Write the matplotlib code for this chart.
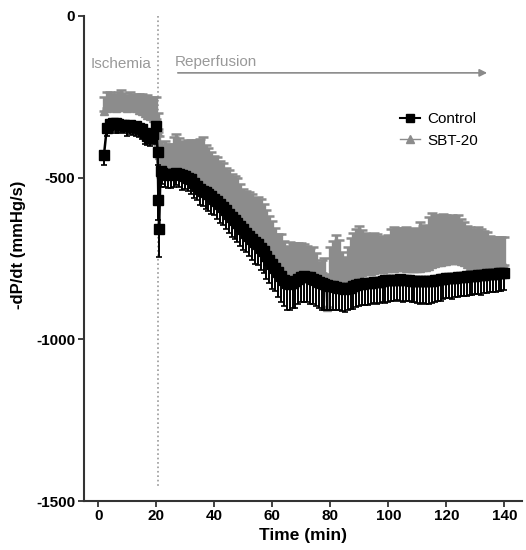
import matplotlib
matplotlib.use('Agg')
import matplotlib.pyplot as plt
from matplotlib.lines import Line2D

plt.rcParams['font.family'] = ['Liberation Sans', 'DejaVu Sans']
plt.rcParams['axes.unicode_minus'] = False

# time grid (min): ischemia, reperfusion onset, reperfusion
time = (list(range(2, 21)) + [20.5, 20.75, 21, 21.5] + list(range(22, 141)))

# Control: mean -dP/dt and lower SEM
control_mean = [
    -430, -345, -335, -330, -332, -335, -338, -336, -340, -338,
    -342, -340, -345, -350, -362, -370, -378, -365, -340,
    -420, -570, -660, -480,
    -485, -490, -492, -490, -488, -486, -488, -492, -495,
    -500, -505, -515, -525, -535, -540, -545, -552, -558, -565,
    -573, -581, -590, -600, -612, -622, -630, -640, -650, -660,
    -670, -680, -690, -698, -706, -716, -728, -742, -755, -768,
    -780, -792, -805, -815, -825, -830, -826, -820, -812, -808,
    -805, -806, -808, -812, -818, -822, -825, -828, -832, -835,
    -836, -838, -840, -842, -843, -842, -840, -836, -832, -830,
    -828, -826, -825, -826, -824, -822, -822, -820, -818, -815,
    -815, -816, -815, -814, -815, -817, -818, -819, -820, -821,
    -820, -819, -820, -821, -820, -818, -816, -814, -812, -811,
    -810, -810, -809, -808, -807, -806, -805, -804, -804, -803,
    -802, -802, -800, -799, -798, -798, -797, -796, -795, -795,
]
control_err = [
    30, 25, 20, 25, 30, 28, 22, 25, 30, 28,
    25, 30, 28, 30, 35, 30, 25, 30, 35,
    40, 60, 85, 50,
    35, 38, 40, 42, 40, 38, 42, 45, 40,
    42, 45, 48, 45, 50, 48, 52, 50, 55, 52,
    55, 58, 55, 60, 58, 62, 60, 58, 62, 65,
    60, 62, 65, 68, 65, 70, 68, 72, 70, 75,
    72, 78, 80, 82, 85, 80, 78, 82, 80, 75,
    78, 80, 82, 78, 80, 82, 85, 80, 78, 75,
    72, 70, 68, 70, 72, 68, 65, 70, 68, 66,
    65, 68, 70, 66, 64, 68, 66, 65, 70, 68,
    66, 64, 62, 66, 68, 65, 62, 64, 66, 68,
    70, 68, 72, 70, 68, 66, 64, 66, 62, 60,
    62, 64, 60, 62, 58, 60, 62, 60, 58, 56,
    58, 60, 56, 58, 55, 56, 58, 55, 54, 52,
]

# SBT-20: mean -dP/dt and upper SEM
sbt_mean = [
    -295, -285, -280, -282, -285, -280, -278, -282, -285, -280,
    -283, -286, -290, -295, -300, -305, -310, -315, -320,
    -360, -400, -430, -450,
    -460, -462, -465, -462, -458, -455, -456, -460, -462,
    -465, -470, -478, -485, -495, -500, -505, -512, -520, -528,
    -536, -545, -555, -565, -575, -585, -595, -605, -615, -625,
    -635, -645, -655, -662, -670, -680, -690, -705, -718, -730,
    -742, -755, -768, -780, -790, -795, -792, -788, -782, -778,
    -776, -776, -778, -782, -788, -792, -795, -798, -900, -805,
    -806, -808, -808, -810, -810, -808, -806, -802, -798, -795,
    -793, -790, -788, -788, -786, -784, -784, -782, -780, -778,
    -778, -778, -777, -776, -777, -778, -779, -780, -780, -780,
    -778, -776, -775, -772, -768, -765, -762, -760, -758, -757,
    -756, -756, -755, -756, -758, -762, -766, -772, -776, -778,
    -778, -778, -776, -775, -774, -773, -772, -772, -771, -770,
]
sbt_err = [
    45, 50, 45, 40, 42, 45, 48, 45, 42, 45,
    40, 45, 50, 55, 52, 60, 55, 65, 70,
    60, 50, 60, 60,
    60, 75, 70, 65, 85, 90, 80, 70, 75,
    80, 85, 90, 100, 115, 125, 105, 105, 100, 95,
    100, 95, 100, 95, 100, 95, 100, 105, 95, 90,
    95, 100, 105, 100, 110, 115, 110, 105, 100, 95,
    85, 80, 95, 85, 80, 95, 90, 85, 80, 76,
    70, 65, 60, 68, 55, 32, 40, 50, 60, 90,
    110, 130, 115, 80, 65, 95, 120, 130, 140, 145,
    130, 120, 115, 110, 115, 110, 105, 100, 95, 100,
    120, 125, 120, 118, 122, 125, 120, 122, 125, 120,
    140, 125, 130, 150, 160, 150, 145, 140, 145, 140,
    135, 140, 135, 140, 130, 125, 115, 120, 115, 120,
    125, 118, 110, 108, 95, 90, 88, 90, 88, 85,
]

x_ticks = [0, 20, 40, 60, 80, 100, 120, 140]
y_ticks = [0, -500, -1000, -1500]

GREY = '#8c8c8c'
zeros = [0] * len(time)

fig = plt.figure(figsize=(5.26, 5.5), dpi=100)
ax = fig.add_axes([0.159, 0.089, 0.833, 0.882])

# SBT-20 first so Control sits on top
ax.errorbar(time, sbt_mean, yerr=[zeros, sbt_err], fmt='-^', color=GREY,
            ms=6, lw=1.5, elinewidth=2.4, capsize=3.5, capthick=1.8, zorder=2)
ax.errorbar(time, control_mean, yerr=[control_err, zeros], fmt='-s',
            color='black', ms=6.5, lw=1.8, elinewidth=1.4, capsize=2.5,
            capthick=1.2, zorder=3)

# ischemia / reperfusion boundary
ax.plot([20.5, 20.5], [0, -1460], ls=':', color='#999999', lw=1.2, zorder=1)
ax.text(8, -150, 'Ischemia', ha='center', va='center', color='#999999',
        fontsize=11)
ax.text(26.5, -165, 'Reperfusion', ha='left', va='bottom', color='#999999',
        fontsize=11)
ax.annotate('', xy=(135, -176), xytext=(26.5, -176),
            arrowprops=dict(arrowstyle='-|>', color='#8a8a8a', lw=1.2,
                            mutation_scale=11))

ax.set_xlim(-5, 146)
ax.set_ylim(-1500, 0)
ax.set_xticks(x_ticks)
ax.set_yticks(y_ticks)
for s in ['top', 'right']:
    ax.spines[s].set_visible(False)
for s in ['left', 'bottom']:
    ax.spines[s].set_linewidth(1.5)
    ax.spines[s].set_color('#333333')
ax.tick_params(direction='out', length=4, width=1.3, color='#333333',
               labelsize=11, pad=2)
for lab in ax.get_xticklabels() + ax.get_yticklabels():
    lab.set_fontweight('bold')

ax.set_xlabel('Time (min)', fontweight='bold', fontsize=12.5, labelpad=3)
ax.set_ylabel('-dP/dt (mmHg/s)', fontweight='bold', fontsize=12)
ax.yaxis.set_label_coords(-0.131, 0.528)

handles = [Line2D([], [], color='black', marker='s', ms=6, lw=1.5),
           Line2D([], [], color=GREY, marker='^', ms=5.5, lw=1)]
ax.legend(handles, ['Control', 'SBT-20'], loc='upper left',
          bbox_to_anchor=(0.69, 0.83), frameon=False, fontsize=11,
          handlelength=1.3, handletextpad=0.5, labelspacing=0.5)

fig.savefig('out.png', dpi=100)
